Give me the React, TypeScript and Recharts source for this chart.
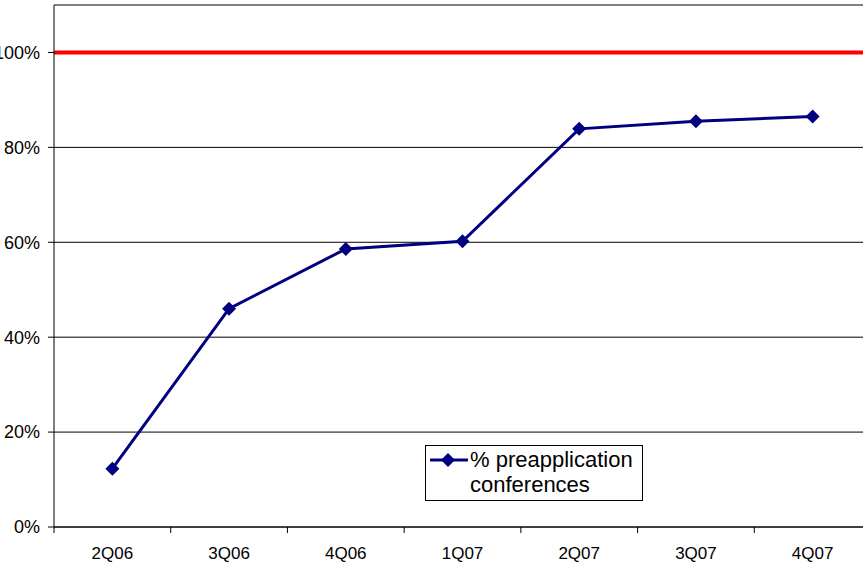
import {
  LineChart,
  Line,
  XAxis,
  YAxis,
  CartesianGrid,
  ReferenceLine,
  Legend,
} from "recharts";

const quarters = ["2Q06", "3Q06", "4Q06", "1Q07", "2Q07", "3Q07", "4Q07"];
const preappPct = [12.3, 46.0, 58.6, 60.2, 83.9, 85.5, 86.5];
const yTicks = [0, 20, 40, 60, 80, 100];
const target = 100;
const yMax = 110;

const data = quarters.map((q, i) => ({ quarter: q, value: preappPct[i] }));

const CHART_W = 880;
const CHART_H = 565;
const Y_AXIS_W = 54;
const MARGIN = { top: 5, right: 9, left: 0, bottom: 0 };
const BAND = (CHART_W - MARGIN.left - MARGIN.right - Y_AXIS_W) / quarters.length;

const NAVY = "#000080";
const FONT = "Arial, 'Liberation Sans', sans-serif";

function Diamond(props: any) {
  const { cx, cy } = props;
  if (cx == null || cy == null) return null;
  const r = 7;
  return (
    <polygon
      points={`${cx},${cy - r} ${cx + r},${cy} ${cx},${cy + r} ${cx - r},${cy}`}
      fill={NAVY}
    />
  );
}

function QuarterTick(props: any) {
  const { x, y, payload } = props;
  const left = x - BAND / 2;
  return (
    <g>
      <line x1={left} y1={y - 20} x2={left} y2={y - 14} stroke="#000" />
      <text
        x={x}
        y={y}
        dy="0.71em"
        textAnchor="middle"
        fontSize={17}
        fontFamily={FONT}
        fill="#000"
      >
        {payload.value}
      </text>
    </g>
  );
}

function LegendBox() {
  return (
    <div
      style={{
        width: 218,
        height: 56,
        border: "1px solid #000",
        background: "#fff",
        display: "flex",
        alignItems: "flex-start",
        fontFamily: FONT,
        fontSize: 22,
        lineHeight: "25px",
        color: "#000",
        boxSizing: "border-box",
        paddingTop: 1,
      }}
    >
      <svg width={44} height={24} style={{ flex: "none" }}>
        <line x1={4} y1={13} x2={42} y2={13} stroke={NAVY} strokeWidth={3} />
        <polygon points="22,6 29,13 22,20 15,13" fill={NAVY} />
      </svg>
      <div>
        % preapplication
        <br />
        conferences
      </div>
    </div>
  );
}

export default function App() {
  return (
    <div
      style={{
        position: "absolute",
        left: 0,
        top: 0,
        width: 863,
        height: 565,
        overflow: "hidden",
        background: "#fff",
      }}
    >
      <LineChart width={CHART_W} height={CHART_H} data={data} margin={MARGIN}>
        <CartesianGrid vertical={false} stroke="#000" strokeWidth={1} />
        <XAxis
          dataKey="quarter"
          scale="band"
          stroke="#000"
          tickLine={false}
          tickSize={6}
          tickMargin={14}
          height={38}
          tick={<QuarterTick />}
          interval={0}
        />
        <YAxis
          width={Y_AXIS_W}
          domain={[0, yMax]}
          ticks={yTicks}
          tickFormatter={(v) => `${v}%`}
          stroke="#000"
          tickSize={6}
          tickMargin={8}
          tick={{ fontSize: 18, fontFamily: FONT, fill: "#000" }}
        />
        <ReferenceLine y={yMax} stroke="#808080" strokeWidth={2} />
        <ReferenceLine y={target} stroke="#FF0000" strokeWidth={4} />
        <Legend
          layout="horizontal"
          verticalAlign="middle"
          align="center"
          content={<LegendBox />}
          wrapperStyle={{ left: 425, top: 445, width: "auto", height: "auto" }}
        />
        <Line
          dataKey="value"
          name="% preapplication conferences"
          stroke={NAVY}
          strokeWidth={3}
          dot={<Diamond />}
          activeDot={false}
          isAnimationActive={false}
        />
      </LineChart>
    </div>
  );
}
